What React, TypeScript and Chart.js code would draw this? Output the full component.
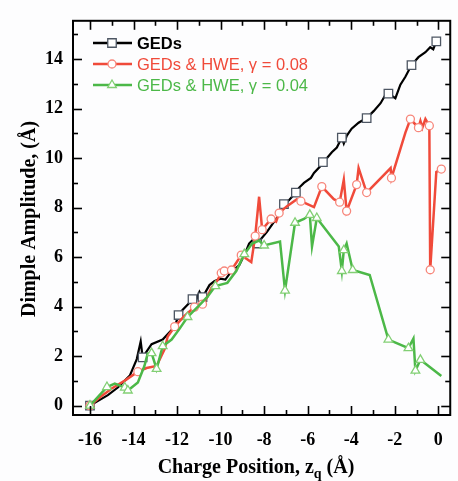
import React, { useEffect, useRef } from "react";
import { Chart, registerables } from "chart.js";

Chart.register(...registerables);

// ---- data ----
const gedsX = [-16, -15.18, -14.72, -14.17, -13.85, -13.67, -13.58, -13.17, -12.66, -12.11, -11.93, -11.75, -11.43, -11.29, -11.15, -10.97, -10.83, -10.51, -10.29, -10.01, -9.78, -9.55, -9.14, -8.87, -8.69, -8.46, -8.32, -7.86, -7.54, -7.22, -7.09, -6.86, -6.54, -6.4, -6.17, -5.85, -5.71, -5.39, -5.3, -5.12, -4.89, -4.66, -4.43, -4.34, -4.2, -3.98, -3.66, -3.29, -2.97, -2.65, -2.42, -2.29, -1.97, -1.74, -1.51, -1.23, -0.91, -0.59, -0.37, -0.23, -0.09];
const gedsY = [0, 0.42, 0.73, 1.21, 1.88, 2.59, 1.95, 2.48, 2.67, 3.19, 3.66, 3.86, 4.16, 4.3, 4.2, 4.6, 4.38, 4.87, 5.03, 5.13, 5.09, 5.37, 5.68, 6.16, 6.55, 6.75, 6.55, 7.03, 7.43, 7.82, 8.14, 8.3, 8.61, 8.8, 9.0, 9.2, 9.4, 9.7, 9.84, 10.0, 10.24, 10.43, 10.83, 10.59, 10.91, 11.19, 11.43, 11.62, 11.9, 12.22, 12.57, 12.61, 12.42, 12.97, 13.29, 13.76, 14.08, 14.28, 14.48, 14.4, 14.72];
const gedsMarkers = [0, 6, 10, 13, 16, 26, 30, 32, 38, 42, 47, 51, 55, 60];

const hwe08X = [-16, -15.54, -15.0, -14.4, -13.8, -13.4, -12.94, -12.57, -12.43, -12.11, -11.66, -11.2, -10.83, -10.6, -10.42, -10.15, -9.97, -9.83, -9.5, -9.05, -8.59, -8.41, -8.23, -8.09, -7.68, -7.45, -7.31, -6.95, -6.49, -6.31, -5.71, -5.35, -4.8, -4.53, -4.34, -4.21, -3.75, -3.66, -3.29, -2.19, -2.15, -1.51, -1.28, -0.91, -0.82, -0.73, -0.59, -0.41, -0.37, -0.09, 0.14];
const hwe08Y = [0, 0.34, 0.69, 1.01, 1.37, 1.52, 1.6, 2.28, 2.79, 3.19, 3.62, 3.98, 4.1, 4.4, 4.77, 5.05, 5.36, 5.44, 5.48, 6.08, 5.8, 6.85, 8.44, 7.11, 7.54, 7.43, 7.78, 8.06, 8.34, 8.26, 8.02, 8.85, 8.34, 8.22, 9.13, 7.86, 8.93, 9.6, 8.61, 9.6, 9.2, 11.03, 11.58, 11.23, 11.5, 11.23, 11.58, 11.31, 5.49, 9.44, 9.56];
const hwe08Markers = [0, 4, 9, 11, 12, 16, 17, 18, 19, 21, 23, 24, 26, 29, 31, 33, 35, 36, 38, 40, 42, 43, 47, 48, 50];

const hwe04X = [-16, -15.22, -14.86, -14.4, -14.26, -13.8, -13.5, -13.35, -13.17, -12.94, -12.66, -12.25, -11.88, -11.52, -10.97, -10.6, -10.24, -9.69, -9.28, -8.91, -8.55, -8.23, -8.0, -7.27, -7.04, -6.58, -6.17, -5.9, -5.8, -5.58, -4.57, -4.43, -4.34, -4.21, -3.93, -3.15, -2.29, -1.37, -1.14, -1.05, -0.82, 0.14];
const hwe04Y = [0, 0.75, 0.89, 0.73, 0.61, 0.93, 1.6, 2.1, 2.12, 1.48, 2.4, 2.67, 3.11, 3.58, 4.06, 4.4, 4.83, 4.96, 5.44, 6.12, 6.55, 6.67, 6.47, 6.63, 4.65, 7.39, 7.54, 7.71, 6.43, 7.58, 6.43, 5.44, 6.28, 6.55, 5.48, 5.28, 2.67, 2.32, 2.71, 1.41, 1.85, 1.2];
const hwe04Markers = [0, 1, 3, 4, 8, 9, 10, 13, 16, 19, 22, 24, 25, 27, 29, 31, 32, 34, 36, 37, 39, 40];

const xTickLabels = [-16, -14, -12, -10, -8, -6, -4, -2, 0];
const xMinorTicks = [-15, -13, -11, -9, -7, -5, -3, -1];
const yTickLabels = [0, 2, 4, 6, 8, 10, 12, 14];
const yMinorTicks = [1, 3, 5, 7, 9, 11, 13, 15];

const legendLabels = ["GEDs", "GEDs & HWE, \u03b3 = 0.08", "GEDs & HWE, \u03b3 = 0.04"];
const xTitle = ["Charge Position, z", "q", " (\u00c5)"];
const yTitle = "Dimple Amplitude, (\u00c5)";

// ---- styles ----
const BLACK = "#000000";
const RED = "#f04a3a";
const GREEN = "#4cb848";
const SQUARE_EDGE = "#4d5663";
const CIRCLE_EDGE = "#f7877c";
const TRI_EDGE = "#82cf74";
const SERIF = "'Liberation Serif', 'Times New Roman', serif";
const SANS = "'Liberation Sans', Arial, sans-serif";

function toPoints(xs: number[], ys: number[]) {
  return xs.map((x, i) => ({ x, y: ys[i] }));
}
function radii(n: number, marked: number[], r: number) {
  const out: number[] = [];
  for (let i = 0; i < n; i++) out.push(marked.includes(i) ? r : 0);
  return out;
}

const framePlugin = {
  id: "frameTicks",
  afterDatasetsDraw(chart: any) {
    const { ctx, chartArea: a, scales } = chart;
    const xs = scales.x;
    const ys = scales.y;
    ctx.save();
    ctx.strokeStyle = "#000";
    ctx.lineWidth = 1.6;
    const seg = (x1: number, y1: number, x2: number, y2: number) => {
      ctx.beginPath();
      ctx.moveTo(x1, y1);
      ctx.lineTo(x2, y2);
      ctx.stroke();
    };
    const drawX = (vals: number[], len: number) => {
      for (const v of vals) {
        const p = Math.round(xs.getPixelForValue(v)) + 0.5;
        seg(p, a.bottom, p, a.bottom - len);
        seg(p, a.top, p, a.top + len);
      }
    };
    const drawY = (vals: number[], len: number) => {
      for (const v of vals) {
        const p = Math.round(ys.getPixelForValue(v)) + 0.5;
        seg(a.left, p, a.left + len, p);
        seg(a.right, p, a.right - len, p);
      }
    };
    drawX(xTickLabels, 9);
    drawX(xMinorTicks, 5);
    drawY(yTickLabels, 9);
    drawY(yMinorTicks, 5);
    ctx.lineWidth = 2;
    ctx.strokeRect(a.left, a.top, a.right - a.left, a.bottom - a.top);
    ctx.restore();
  },
  afterDraw(chart: any) {
    const { ctx } = chart;
    ctx.save();
    // legend
    const colors = [BLACK, RED, GREEN];
    const rows = [43, 64, 85];
    const styles = ["rect", "circle", "triangle"];
    const edges = [SQUARE_EDGE, CIRCLE_EDGE, TRI_EDGE];
    const rad = [6, 4, 5];
    for (let i = 0; i < 3; i++) {
      const y = rows[i];
      ctx.strokeStyle = colors[i];
      ctx.lineWidth = 2.5;
      ctx.beginPath();
      ctx.moveTo(93, y);
      ctx.lineTo(132, y);
      ctx.stroke();
      ctx.fillStyle = "#fff";
      ctx.strokeStyle = edges[i];
      ctx.lineWidth = 1.3;
      (Chart as any).helpers?.drawPoint
        ? null
        : null;
      drawMarker(ctx, styles[i], 112, y, rad[i]);
      ctx.fillStyle = colors[i];
      ctx.font = (i === 0 ? "bold " : "") + "16.5px " + SANS;
      ctx.textAlign = "left";
      ctx.textBaseline = "middle";
      ctx.fillText(legendLabels[i], 137, y + 1);
    }
    // y title
    ctx.fillStyle = "#000";
    ctx.font = "bold 20px " + SERIF;
    ctx.save();
    ctx.translate(30, 219);
    ctx.rotate(-Math.PI / 2);
    ctx.textAlign = "center";
    ctx.textBaseline = "middle";
    ctx.fillText(yTitle, 0, 0);
    ctx.restore();
    // x title with subscript
    const mainFont = "bold 20px " + SERIF;
    const subFont = "bold 14px " + SERIF;
    ctx.font = mainFont;
    const w1 = ctx.measureText(xTitle[0]).width;
    const w3 = ctx.measureText(xTitle[2]).width;
    ctx.font = subFont;
    const w2 = ctx.measureText(xTitle[1]).width;
    const total = w1 + w2 + w3;
    let x = 256 - total / 2;
    const base = 473;
    ctx.textAlign = "left";
    ctx.textBaseline = "alphabetic";
    ctx.font = mainFont;
    ctx.fillText(xTitle[0], x, base);
    x += w1;
    ctx.font = subFont;
    ctx.fillText(xTitle[1], x, base + 5);
    x += w2;
    ctx.font = mainFont;
    ctx.fillText(xTitle[2], x, base);
    ctx.restore();
  },
};

function drawMarker(ctx: CanvasRenderingContext2D, style: string, x: number, y: number, r: number) {
  ctx.beginPath();
  if (style === "rect") {
    const s = r * Math.SQRT1_2;
    ctx.rect(x - s, y - s, 2 * s, 2 * s);
  } else if (style === "circle") {
    ctx.arc(x, y, r, 0, Math.PI * 2);
  } else {
    const h = r * 1.5;
    ctx.moveTo(x, y - r);
    ctx.lineTo(x + r * Math.cos(Math.PI / 6), y + r / 2);
    ctx.lineTo(x - r * Math.cos(Math.PI / 6), y + r / 2);
    ctx.closePath();
    void h;
  }
  ctx.fill();
  ctx.stroke();
}

export default function App() {
  const ref = useRef<HTMLCanvasElement | null>(null);
  useEffect(() => {
    if (!ref.current) return;
    const chart = new Chart(ref.current, {
      type: "line",
      data: {
        datasets: [
          {
            label: legendLabels[2],
            data: toPoints(hwe04X, hwe04Y),
            borderColor: GREEN,
            borderWidth: 2.5,
            pointStyle: "triangle",
            pointRadius: radii(hwe04X.length, hwe04Markers, 5),
            pointHoverRadius: 0,
            pointBackgroundColor: "#ffffff",
            pointBorderColor: TRI_EDGE,
            pointBorderWidth: 1.3,
            tension: 0,
            order: 0,
          },
          {
            label: legendLabels[1],
            data: toPoints(hwe08X, hwe08Y),
            borderColor: RED,
            borderWidth: 2.5,
            pointStyle: "circle",
            pointRadius: radii(hwe08X.length, hwe08Markers, 4),
            pointHoverRadius: 0,
            pointBackgroundColor: "#ffffff",
            pointBorderColor: CIRCLE_EDGE,
            pointBorderWidth: 1.3,
            tension: 0,
            order: 1,
          },
          {
            label: legendLabels[0],
            data: toPoints(gedsX, gedsY),
            borderColor: BLACK,
            borderWidth: 2.2,
            pointStyle: "rect",
            pointRadius: radii(gedsX.length, gedsMarkers, 6),
            pointHoverRadius: 0,
            pointBackgroundColor: "#ffffff",
            pointBorderColor: SQUARE_EDGE,
            pointBorderWidth: 1.3,
            tension: 0,
            order: 2,
          },
        ],
      },
      options: {
        animation: false,
        responsive: false,
        layout: { padding: { top: 13, right: 6, left: 0, bottom: 0 } },
        plugins: { legend: { display: false }, tooltip: { enabled: false } },
        events: [],
        scales: {
          x: {
            type: "linear",
            min: -16.78,
            max: 0.55,
            grid: { display: false, drawTicks: false },
            border: { display: false },
            afterFit: (s: any) => {
              s.height = 66;
            },
            afterBuildTicks: (s: any) => {
              s.ticks = xTickLabels.map((v) => ({ value: v }));
            },
            ticks: {
              autoSkip: false,
              maxRotation: 0,
              padding: 15,
              color: "#000",
              font: { family: SERIF, size: 18, weight: "bold" },
              callback: (v: any) => String(v),
            },
          },
          y: {
            type: "linear",
            min: -0.38,
            max: 15.55,
            grid: { display: false, drawTicks: false },
            border: { display: false },
            afterFit: (s: any) => {
              s.width = 73;
            },
            afterBuildTicks: (s: any) => {
              s.ticks = yTickLabels.map((v) => ({ value: v }));
            },
            ticks: {
              autoSkip: false,
              padding: 10,
              color: "#000",
              font: { family: SERIF, size: 18, weight: "bold" },
              callback: (v: any) => String(v),
            },
          },
        },
      },
      plugins: [framePlugin],
    } as any);
    return () => chart.destroy();
  }, []);
  return (
    <div style={{ position: "fixed", left: 0, top: 0, width: 458, height: 481, background: "#fdfdfe" }}>
      <canvas ref={ref} width={458} height={481} style={{ display: "block" }} />
    </div>
  );
}
